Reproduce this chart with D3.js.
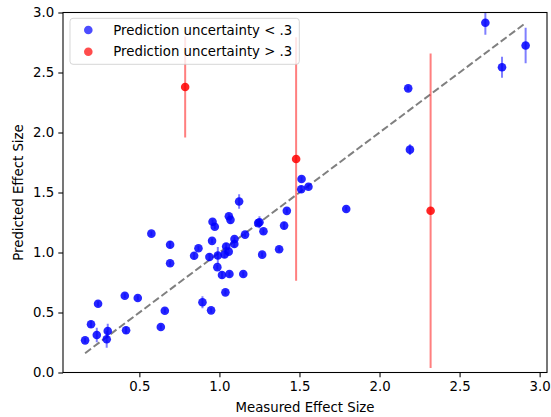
<!DOCTYPE html>
<html>
<head>
<meta charset="utf-8">
<script src="https://cdn.jsdelivr.net/npm/d3@7"></script>
<style>
  html, body { margin: 0; padding: 0; background: #fff; }
  svg { display: block; font-family: "DejaVu Sans", sans-serif; }
</style>
</head>
<body>
<svg id="chart" width="551" height="417"></svg>
<script>
// Measured vs. predicted effect sizes, with the prediction uncertainty as error bars
const measured = [
  0.161, 0.198, 0.242, 0.234, 0.3025, 0.296, 0.409, 0.49, 0.417, 0.659, 0.634,
  0.575, 0.692, 0.692, 0.894, 0.948, 1.0375, 0.869, 0.842, 0.9375, 0.954,
  0.957, 0.971, 0.99, 0.987, 1.016, 1.0625, 1.149, 1.042, 1.058, 1.032,
  1.094, 1.093, 1.16, 1.059, 1.069, 1.123, 1.242, 1.25, 1.275, 1.267,
  1.373, 1.404, 1.421, 1.513, 1.511, 1.556, 1.792, 2.179, 2.19, 2.661,
  2.765, 2.9125,
  0.786, 1.479, 2.319
];
const predicted = [
  0.268, 0.402, 0.573, 0.313, 0.346, 0.277, 0.64, 0.621, 0.352, 0.515, 0.379,
  1.157, 1.065, 0.91, 0.585, 0.518, 0.668, 1.035, 0.973, 0.963, 1.097,
  1.256, 1.215, 0.975, 0.878, 0.8125, 0.821, 0.821, 1.05, 1.007, 0.984,
  1.112, 1.071, 1.149, 1.302, 1.272, 1.425, 1.245, 1.252, 1.177, 0.982,
  1.027, 1.224, 1.347, 1.6125, 1.527, 1.548, 1.3625, 2.368, 1.857, 2.915,
  2.544, 2.725,
  2.379, 1.779, 1.348
];
const uncertainty = [
  0.02, 0.03, 0.02, 0.06, 0.06, 0.07, 0.02, 0.02, 0.03, 0.02, 0.02,
  0.02, 0.03, 0.02, 0.05, 0.02, 0.02, 0.02, 0.03, 0.03, 0.02,
  0.02, 0.02, 0.07, 0.02, 0.03, 0.02, 0.02, 0.03, 0.02, 0.03,
  0.02, 0.03, 0.02, 0.02, 0.03, 0.06, 0.02, 0.05, 0.02, 0.02,
  0.02, 0.03, 0.02, 0.02, 0.03, 0.02, 0.02, 0.02, 0.045, 0.1,
  0.088, 0.148,
  0.42, 1.015, 1.31
];
const threshold = 0.3;
const xTicks = [0.5, 1.0, 1.5, 2.0, 2.5, 3.0];
const yTicks = [0.0, 0.5, 1.0, 1.5, 2.0, 2.5, 3.0];
const legendLabels = ["Prediction uncertainty < .3", "Prediction uncertainty > .3"];
const xLabel = "Measured Effect Size";
const yLabel = "Predicted Effect Size";

const W = 551, H = 417;
const margin = { top: 12.5, right: 4, bottom: 44.5, left: 63 };
const iw = W - margin.left - margin.right;
const ih = H - margin.top - margin.bottom;
const fontPx = 13.3;

const points = measured.map((m, i) => ({
  x: m, y: predicted[i], err: uncertainty[i], high: uncertainty[i] > threshold
}));

const svg = d3.select("#chart");
const g = svg.append("g").attr("transform", `translate(${margin.left},${margin.top})`);

const x = d3.scaleLinear().domain([0.023, 3.046]).range([0, iw]);
const y = d3.scaleLinear().domain([0, 3]).range([ih, 0]);

g.append("defs").append("clipPath").attr("id", "plotclip")
  .append("rect").attr("width", iw).attr("height", ih);

const plot = g.append("g").attr("clip-path", "url(#plotclip)");

// identity reference line across the measured range
const xExt = d3.extent(measured);
plot.append("line")
  .attr("x1", x(xExt[0])).attr("y1", y(xExt[0]))
  .attr("x2", x(xExt[1])).attr("y2", y(xExt[1]))
  .attr("stroke", "#808080").attr("stroke-width", 2)
  .attr("stroke-dasharray", "7.4,3.2");

const colors = { low: "#0000ff", high: "#ff0000" };

function drawGroup(data, color) {
  plot.append("g").selectAll("line").data(data).join("line")
    .attr("x1", d => x(d.x)).attr("x2", d => x(d.x))
    .attr("y1", d => y(d.y - d.err)).attr("y2", d => y(d.y + d.err))
    .attr("stroke", color).attr("stroke-opacity", 0.5).attr("stroke-width", 2);
  plot.append("g").selectAll("circle").data(data).join("circle")
    .attr("cx", d => x(d.x)).attr("cy", d => y(d.y)).attr("r", 4.3)
    .attr("fill", color).attr("fill-opacity", 0.85);
}
drawGroup(points.filter(d => !d.high), colors.low);
drawGroup(points.filter(d => d.high), colors.high);

// axes
const xAxis = g.append("g").attr("transform", `translate(0,${ih})`)
  .call(d3.axisBottom(x).tickValues(xTicks).tickFormat(d3.format(".1f"))
    .tickSize(4.7).tickPadding(4.2).tickSizeOuter(0));
const yAxis = g.append("g")
  .call(d3.axisLeft(y).tickValues(yTicks).tickFormat(d3.format(".1f"))
    .tickSize(4.7).tickPadding(4.2).tickSizeOuter(0));
[xAxis, yAxis].forEach(a => {
  a.select(".domain").remove();
  a.selectAll(".tick line").attr("stroke", "#000").attr("stroke-width", 1.07);
  a.selectAll(".tick text").attr("fill", "#000")
    .style("font-size", fontPx + "px").style("font-family", "DejaVu Sans");
});

// frame
g.append("rect").attr("width", iw).attr("height", ih)
  .attr("fill", "none").attr("stroke", "#000").attr("stroke-width", 1.07);

// axis titles
svg.append("text").attr("x", margin.left + iw / 2).attr("y", 412)
  .attr("text-anchor", "middle").style("font-size", fontPx + "px").text(xLabel);
svg.append("text")
  .attr("transform", `translate(23,${margin.top + ih / 2}) rotate(-90)`)
  .attr("text-anchor", "middle").style("font-size", fontPx + "px").text(yLabel);

// legend
const leg = svg.append("g").attr("transform", "translate(70,18.3)");
leg.append("rect").attr("width", 229.3).attr("height", 46).attr("rx", 3)
  .attr("fill", "#fff").attr("fill-opacity", 0.8)
  .attr("stroke", "#cccccc").attr("stroke-opacity", 0.8).attr("stroke-width", 1);
[colors.low, colors.high].forEach((c, i) => {
  const cy = 11.7 + i * 21.7;
  leg.append("circle").attr("cx", 18.3).attr("cy", cy).attr("r", 4.3)
    .attr("fill", c).attr("fill-opacity", 0.7);
  leg.append("text").attr("x", 43.3).attr("y", cy).attr("dy", "0.36em")
    .style("font-size", fontPx + "px").text(legendLabels[i]);
});
</script>
</body>
</html>
